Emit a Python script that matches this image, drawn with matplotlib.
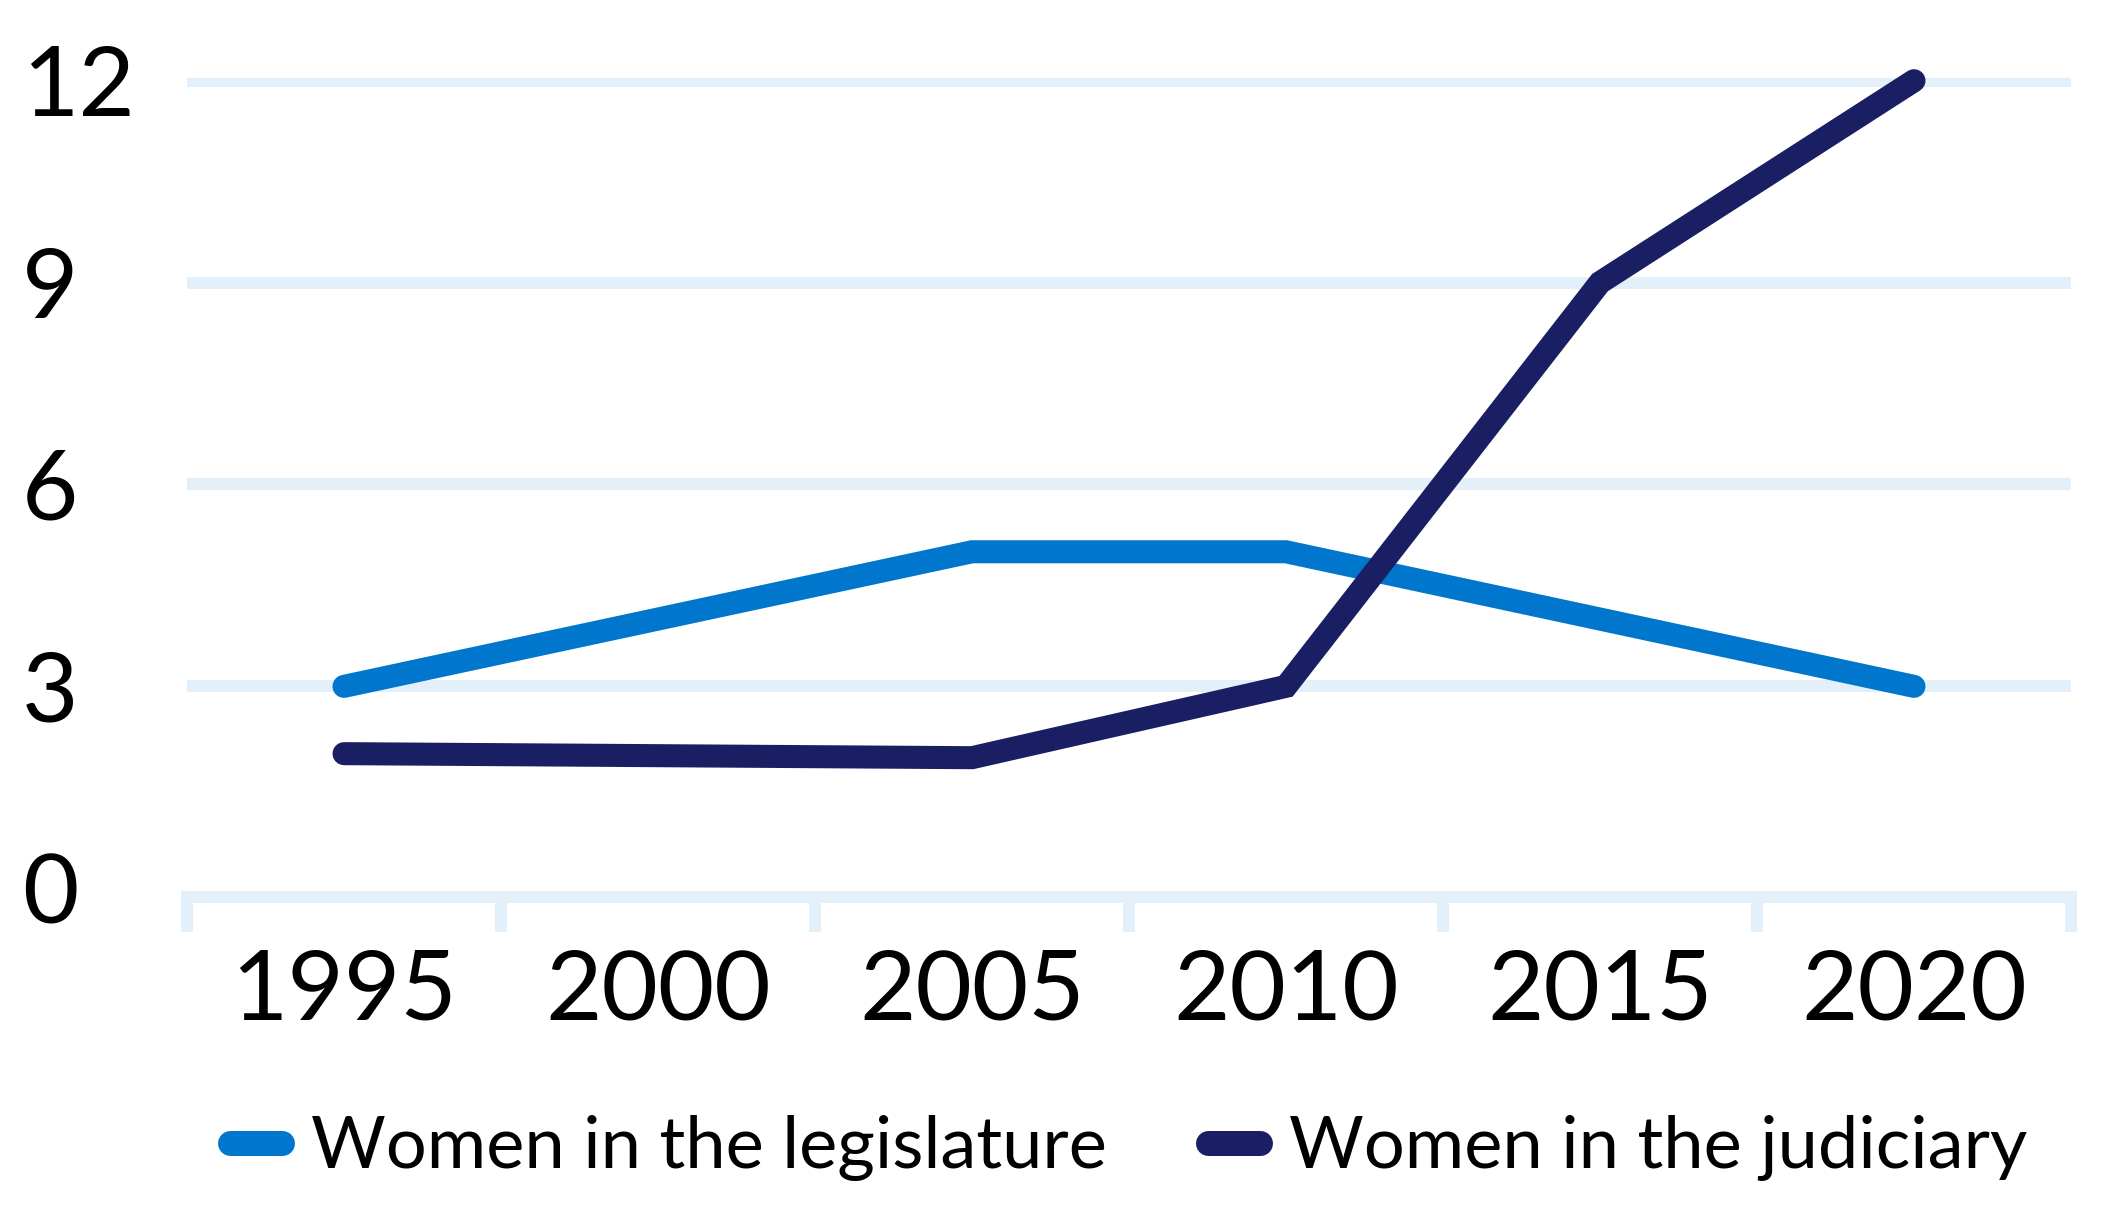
import matplotlib
matplotlib.use('Agg')
import matplotlib.pyplot as plt
from matplotlib.lines import Line2D

plt.rcParams['font.family'] = ['Lato', 'DejaVu Sans']

years = ['1995', '2000', '2005', '2010', '2015', '2020']
legislature = [3, 4, 5, 5, 4, 3]
judiciary = [2, 1.97, 1.94, 3, 9, 12]
yticks = [0, 3, 6, 9, 12]
series_names = ['Women in the legislature', 'Women in the judiciary']

blue = '#0077cc'
navy = '#1a1f63'
grid_col = '#e3eff9'

W, H = 2109, 1220
fig = plt.figure(figsize=(W / 100, H / 100), dpi=100)
ax = fig.add_axes([187 / W, 1 - 897 / H, (2071 - 187) / W, (897 - 78) / H])

x = list(range(len(years)))
ax.plot(x, legislature, color=blue, lw=16.6, solid_capstyle='round',
        solid_joinstyle='miter', clip_on=False, zorder=3)
ax.plot(x, judiciary, color=navy, lw=16.6, solid_capstyle='round',
        solid_joinstyle='miter', clip_on=False, zorder=3)

ax.set_xlim(-0.5, len(years) - 0.5)
ax.set_ylim(-0.13, 12.04)

ax.set_yticks(yticks)
ax.set_yticklabels([str(v) for v in yticks])
ax.grid(axis='y', color=grid_col, lw=8.6, zorder=0)
ax.yaxis.get_gridlines()[0].set_visible(False)
ax.tick_params(axis='y', length=0, pad=119, labelsize=70)
for lab in ax.get_yticklabels():
    lab.set_horizontalalignment('left')

ax.set_xticks(x)
ax.set_xticklabels(years)
ax.set_xticks([i - 0.5 for i in range(len(years) + 1)], minor=True)
ax.tick_params(axis='x', which='major', length=0, pad=37, labelsize=70)
ax.tick_params(axis='x', which='minor', length=25, width=8.6, color=grid_col)

for s in ['top', 'right', 'left']:
    ax.spines[s].set_visible(False)
ax.spines['bottom'].set_color(grid_col)
ax.spines['bottom'].set_linewidth(8.6)
ax.spines['bottom'].set_capstyle('projecting')

handles = [Line2D([], [], color=blue, lw=18, solid_capstyle='round'),
           Line2D([], [], color=navy, lw=18, solid_capstyle='round')]
fig.legend(handles, series_names, loc='center', ncol=2,
           bbox_to_anchor=((187 + 2071) / 2 / W, 1 - 1148 / H),
           frameon=False, fontsize=52, handlelength=0.72, handletextpad=0.4,
           columnspacing=1.4)

fig.savefig('out.png', dpi=100)
